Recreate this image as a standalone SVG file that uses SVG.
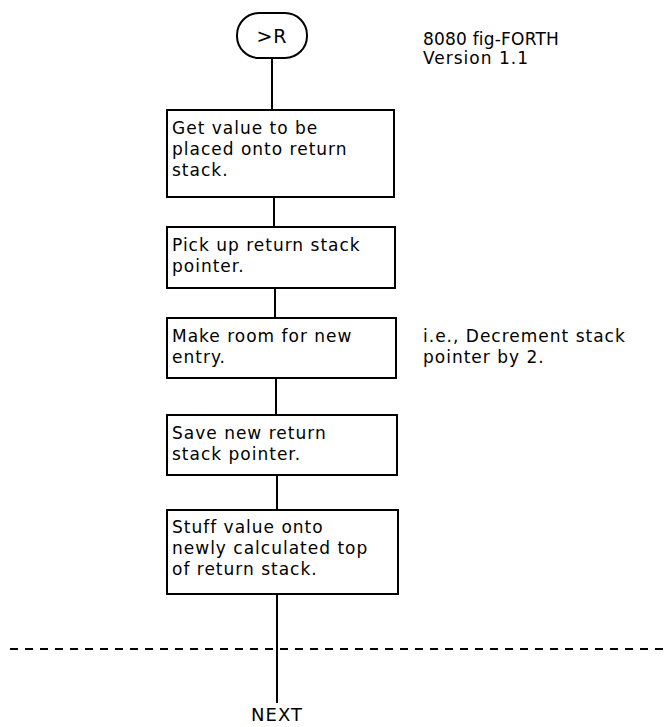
<svg xmlns="http://www.w3.org/2000/svg" width="666" height="727" viewBox="0 0 666 727">
<style>
.box{fill:#fff;stroke:#000;stroke-width:2}
.t{font-family:"DejaVu Sans","Liberation Sans",sans-serif;font-size:17px;letter-spacing:1px;fill:#000}
.c{stroke:#000;stroke-width:2;fill:none}
.d{stroke:#000;stroke-width:2;stroke-dasharray:8 7;fill:none}
</style>
<rect width="666" height="727" fill="#fff"/>
<g id="connectors">
<line class="c" x1="272" y1="58" x2="272" y2="110"/>
<line class="c" x1="274" y1="197" x2="274" y2="227"/>
<line class="c" x1="275" y1="288" x2="275" y2="318"/>
<line class="c" x1="276" y1="378" x2="276" y2="415"/>
<line class="c" x1="277" y1="475" x2="277" y2="510"/>
<line class="c" x1="277" y1="594" x2="277" y2="703"/>
<line class="d" x1="10" y1="649" x2="666" y2="649"/>
</g>
<g id="start">
<rect class="box" x="237" y="13" width="70" height="45" rx="22"/>
<text class="t" x="272" y="43" text-anchor="middle" style="font-size:19px">&gt;R</text>
</g>
<g id="title">
<text class="t" x="423" y="45" style="letter-spacing:0.2px">8080 fig-FORTH</text>
<text class="t" x="423" y="64">Version 1.1</text>
</g>
<g id="box1">
<rect class="box" x="167" y="110" width="227" height="87"/>
<text class="t" x="172" y="134">Get value to be</text>
<text class="t" x="172" y="155">placed onto return</text>
<text class="t" x="172" y="176">stack.</text>
</g>
<g id="box2">
<rect class="box" x="167" y="227" width="228" height="61"/>
<text class="t" x="172" y="251">Pick up return stack</text>
<text class="t" x="172" y="272">pointer.</text>
</g>
<g id="box3">
<rect class="box" x="167" y="318" width="229" height="60"/>
<text class="t" x="172" y="342">Make room for new</text>
<text class="t" x="172" y="363">entry.</text>
</g>
<g id="note">
<text class="t" x="423" y="342">i.e., Decrement stack</text>
<text class="t" x="423" y="363">pointer by 2.</text>
</g>
<g id="box4">
<rect class="box" x="167" y="415" width="230" height="60"/>
<text class="t" x="172" y="439">Save new return</text>
<text class="t" x="172" y="460">stack pointer.</text>
</g>
<g id="box5">
<rect class="box" x="167" y="510" width="231" height="84"/>
<text class="t" x="172" y="533">Stuff value onto</text>
<text class="t" x="172" y="554">newly calculated top</text>
<text class="t" x="172" y="575">of return stack.</text>
</g>
<g id="next">
<text class="t" x="277" y="721" text-anchor="middle" style="font-size:18px">NEXT</text>
</g>
</svg>
